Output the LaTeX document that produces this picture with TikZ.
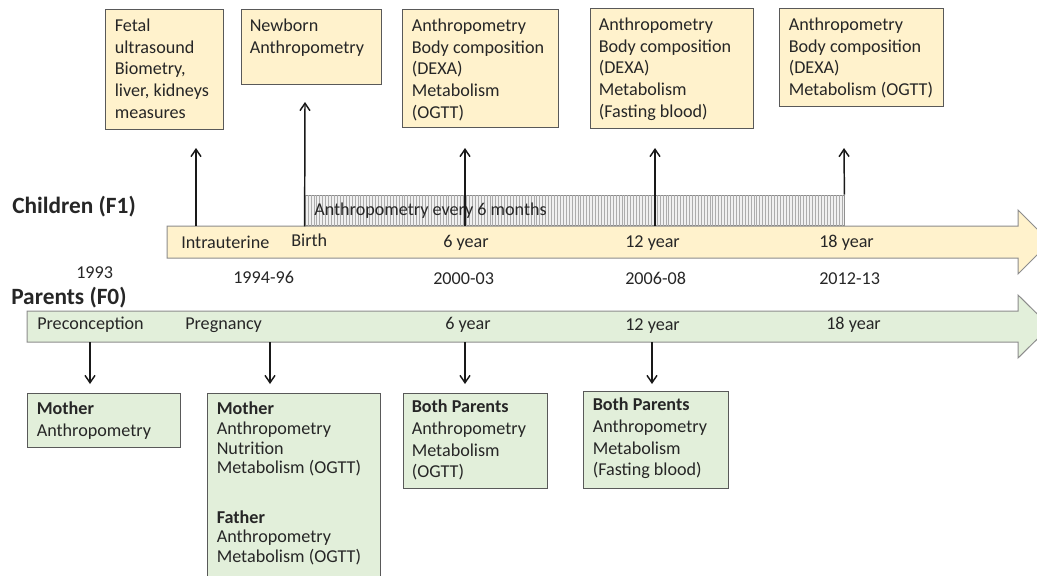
\documentclass[tikz,border=0pt]{standalone}
\usepackage{fontspec}
\setmainfont{Carlito}
\usetikzlibrary{arrows.meta,patterns.meta,fit}
\definecolor{ylw}{HTML}{FFF2CC}
\definecolor{grn}{HTML}{E2EFDA}
\definecolor{bord}{HTML}{595959}
\definecolor{barln}{HTML}{8C8C8C}
\definecolor{txtc}{HTML}{262626}
\begin{document}
\begin{tikzpicture}[x=0.75pt,y=-0.75pt,
  every node/.style={text=txtc},
  lbl/.style={font=\fontsize{13.6}{16.3}\selectfont, inner sep=0, anchor=base west},
  ttl/.style={font=\fontsize{17.5}{21}\selectfont\bfseries, inner sep=0, anchor=base west},
  ybox/.style={draw=bord, fill=ylw, line width=0.75pt, inner sep=0},
  gbox/.style={draw=bord, fill=grn, line width=0.75pt, inner sep=0},
  body/.style={anchor=north west, inner sep=0, align=left, font=\fontsize{13.6}{16.3}\selectfont},
  bodytight/.style={anchor=north west, inner sep=0, align=left, font=\fontsize{13.6}{14.8}\selectfont},
  arr/.style={line width=1.1pt, draw=black!90, -{Straight Barb[length=5.5pt,width=7.5pt]}},
  bar/.style={draw=barln, line width=0.75pt},
]
\useasboundingbox (0,0) rectangle (1037,575);
\clip (0,0) rectangle (1037,575);

% timeline bars
\draw[bar, fill=ylw] (167,226) -- (1018,226) -- (1018,210) -- (1050,242) -- (1018,274) -- (1018,258) -- (167,258) -- cycle;
\draw[bar, fill=grn] (27,311) -- (1018,311) -- (1018,295) -- (1050,326.5) -- (1018,358) -- (1018,342) -- (27,342) -- cycle;

% hatched box
\node[draw=barln, line width=0.6pt, inner sep=0, fill=gray!12,
      postaction={pattern={Lines[angle=90,distance=2.2pt,line width=0.5pt]}, pattern color=gray!65},
      fit={(305,195) (844,225)}] (hatch) {};
\node[lbl] (every6) at (314,215) {Anthropometry every 6 months};

% titles
\node[ttl] (children) at (12,213) {Children (F1)};
\node[ttl] (parents) at (11,304) {Parents (F0)};

% labels on yellow bar
\node[lbl] (intra) at (181,248) {Intrauterine};
\node[lbl] (birth) at (291,246.5) {Birth};
\node[lbl] (y6c) at (443,247.5) {6 year};
\node[lbl] (y12c) at (625,247.5) {12 year};
\node[lbl] (y18c) at (819,247.5) {18 year};

% years
\node[lbl] (yr1993) at (76,278) {1993};
\node[lbl] (yr9496) at (233,283) {1994-96};
\node[lbl] (yr0003) at (433,284) {2000-03};
\node[lbl] (yr0608) at (625,284) {2006-08};
\node[lbl] (yr1213) at (819,284) {2012-13};

% labels on green bar
\node[lbl] (precon) at (37,329) {Preconception};
\node[lbl] (preg) at (185,329) {Pregnancy};
\node[lbl] (y6p) at (445,329) {6 year};
\node[lbl] (y12p) at (625,330) {12 year};
\node[lbl] (y18p) at (826,329) {18 year};

% top boxes
\node[ybox, fit={(105,9) (223,129)}] (t1) {};
\node[body] (t1t) at ([shift={(10,7.3)}]t1.north west) {\strut Fetal\\ultrasound\\Biometry,\\liver, kidneys\\measures};
\node[ybox, fit={(241,9) (381,84)}] (t2) {};
\node[body] (t2t) at ([shift={(9,7.3)}]t2.north west) {\strut Newborn\\Anthropometry};
\node[ybox, fit={(402,9) (558,127)}] (t3) {};
\node[body] (t3t) at ([shift={(10,7.3)}]t3.north west) {\strut Anthropometry\\Body composition\\(DEXA)\\Metabolism\\(OGTT)};
\node[ybox, fit={(590,8) (753,128)}] (t4) {};
\node[body] (t4t) at ([shift={(9,7.3)}]t4.north west) {\strut Anthropometry\\Body composition\\(DEXA)\\Metabolism\\(Fasting blood)};
\node[ybox, fit={(779,8) (943,106)}] (t5) {};
\node[body] (t5t) at ([shift={(10,7.3)}]t5.north west) {\strut Anthropometry\\Body composition\\(DEXA)\\Metabolism (OGTT)};

% bottom boxes
\node[gbox, fit={(27,393) (180,447)}] (b1) {};
\node[body] (b1t) at ([shift={(10,6.8)}]b1.north west) {\strut\textbf{Mother}\\Anthropometry};
\node[gbox, fit={(207,393) (380,590)}] (b2) {};
\node[bodytight] (b2t) at ([shift={(10,8.2)}]b2.north west) {\strut\textbf{Mother}\\Anthropometry\\Nutrition\\Metabolism (OGTT)\\[22pt]\textbf{Father}\\Anthropometry\\Metabolism (OGTT)};
\node[gbox, fit={(403,393) (547,488)}] (b3) {};
\node[body] (b3t) at ([shift={(9,4.8)}]b3.north west) {\strut\textbf{Both Parents}\\Anthropometry\\Metabolism\\(OGTT)};
\node[gbox, fit={(583,391) (728,488)}] (b4) {};
\node[body] (b4t) at ([shift={(10,4.8)}]b4.north west) {\strut\textbf{Both Parents}\\Anthropometry\\Metabolism\\(Fasting blood)};

% connector coordinates
\coordinate (u1s) at (196,226);  \coordinate (u1e) at (196,148);
\coordinate (u2e) at (305,102);
\coordinate (u3s) at (465,226);  \coordinate (u3e) at (465,148);
\coordinate (u4s) at (655,226);  \coordinate (u4e) at (655,148);
\coordinate (u5e) at (844,148);
\coordinate (d1s) at (90,342);   \coordinate (d1e) at (90,384);
\coordinate (d2s) at (270,342);  \coordinate (d2e) at (270,384);
\coordinate (d3s) at (465,342);  \coordinate (d3e) at (465,384);
\coordinate (d4s) at (652,342);  \coordinate (d4e) at (652,384);

% up arrows
\draw[arr] (u1s) -- (u1e);
\draw[arr] ([yshift=-0.75pt]hatch.south west) -- (u2e);
\draw[arr] (u3s) -- (u3e);
\draw[arr] (u4s) -- (u4e);
\draw[arr] (hatch.north east) -- (u5e);

% down arrows
\draw[arr] (d1s) -- (d1e);
\draw[arr] (d2s) -- (d2e);
\draw[arr] (d3s) -- (d3e);
\draw[arr] (d4s) -- (d4e);
\end{tikzpicture}
\end{document}
